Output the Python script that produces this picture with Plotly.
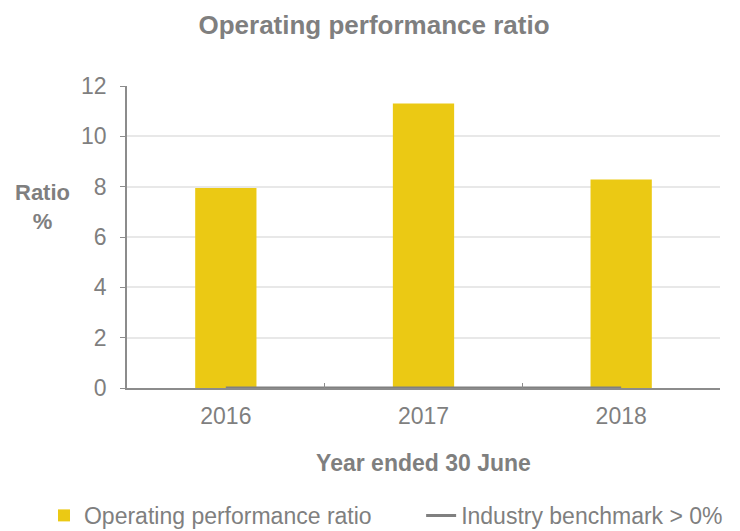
import plotly.graph_objects as go

years = ["2016", "2017", "2018"]
ratio = [7.95, 11.3, 8.28]
benchmark = [0, 0, 0]

FONT = "Liberation Sans, Arial, sans-serif"
GREY = "#7f7f7f"

fig = go.Figure()

fig.add_trace(go.Bar(
    x=years, y=ratio, name="Operating performance ratio",
    marker=dict(color="#EBC914", line=dict(width=0)),
    legend="legend",
))

fig.add_trace(go.Scatter(
    x=years, y=benchmark, name="Industry benchmark > 0%",
    mode="lines", line=dict(color="#808080", width=3),
    legend="legend2",
))

legend_style = dict(orientation="h", xanchor="left", y=-0.422, yanchor="middle",
                    font=dict(size=23, color=GREY), bgcolor="rgba(0,0,0,0)")

# page body has an 8px margin, so the figure is a bit smaller than the window
fig.update_layout(
    width=732, height=523,
    paper_bgcolor="white", plot_bgcolor="white",
    margin=dict(l=119, r=20, t=78, b=143, autoexpand=False),
    font=dict(family=FONT, color=GREY, size=22),
    title=dict(text="<b>Operating performance ratio</b>", x=0.5, xanchor="center",
               y=0.967, yanchor="middle", font=dict(size=26, color=GREY)),
    bargap=0.69,
    showlegend=True,
    legend=dict(x=-0.14, **legend_style),
    legend2=dict(x=0.496, **legend_style),
)

fig.update_xaxes(
    type="category", range=[-0.5, 2.5],
    showline=True, linecolor="#8c8c8c", linewidth=1.5,
    ticks="inside", tickson="boundaries", ticklen=5, tickcolor="#8c8c8c",
    showgrid=False,
    tickfont=dict(size=23, color=GREY), ticklabelstandoff=7,
    title=dict(text="<b>Year ended 30 June</b>", font=dict(size=23, color=GREY), standoff=27),
)

fig.update_yaxes(
    range=[0, 12], dtick=2,
    showline=True, linecolor="#8c8c8c", linewidth=1.5,
    ticks="outside", ticklen=5, tickcolor="#8c8c8c",
    showgrid=True, gridcolor="#e8e8e8", gridwidth=1.5,
    zeroline=False,
    tickfont=dict(size=23, color=GREY), ticklabelstandoff=9,
)

fig.add_annotation(
    text="<b>Ratio</b><br><b>%</b>", xref="paper", yref="paper",
    x=-0.142, y=0.6, xanchor="center", yanchor="middle", showarrow=False,
    font=dict(size=22, color=GREY),
)

fig.write_html("out.html")
